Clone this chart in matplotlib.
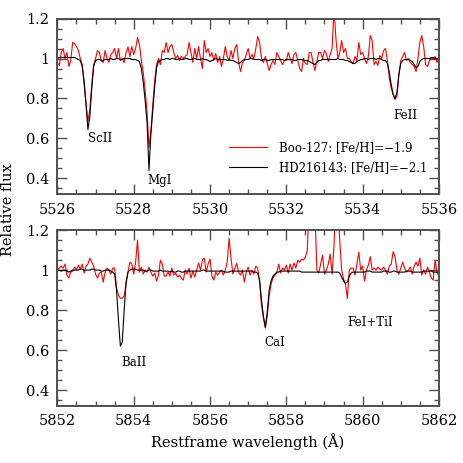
import numpy as np
import matplotlib
matplotlib.use('Agg')
import matplotlib.pyplot as plt
from matplotlib.ticker import MultipleLocator, FixedFormatter, FixedLocator

plt.rcParams['font.family'] = ['DejaVu Serif']

# ---- spectra, sampled every 0.05 A ----
waveTop = np.linspace(5526.0, 5536.0, 201)
waveBot = np.linspace(5852.0, 5862.0, 201)

booTop = [
  0.98, 0.965, 1.03, 1.05, 1.0, 1.03, 0.96, 0.99, 1.08, 1.075,
  1.06, 1.04, 1.0, 0.97, 0.87, 0.78, 0.685, 0.745, 0.87, 0.97,
  1.0, 1.04, 1.03, 0.99, 0.98, 1.04, 1.0, 0.98, 1.02, 1.03,
  1.05, 1.0, 1.05, 0.99, 1.0, 0.98, 1.03, 1.058, 1.01, 1.06,
  1.02, 1.05, 1.105, 1.07, 0.99, 0.93, 0.84, 0.73, 0.555, 0.64,
  0.77, 0.89, 0.97, 1.0, 0.97, 1.04, 1.03, 1.08, 1.03, 1.06,
  1.07, 1.03, 1.0, 1.015, 0.99, 1.01, 1.0, 1.01, 1.02, 1.08,
  1.03, 0.98, 1.05, 1.0, 1.06, 1.0, 0.95, 1.09, 1.03, 1.05,
  1.01, 1.03, 0.99, 1.025, 0.98, 1.01, 0.96, 1.0, 1.06, 1.01,
  0.99, 1.04, 1.0, 1.05, 1.07, 0.98, 0.935, 0.98, 0.99, 1.02,
  1.05, 1.0, 1.02, 1.0, 1.05, 1.11, 1.08, 1.0, 0.98, 1.01,
  0.975, 0.94, 0.97, 0.99, 0.97, 1.03, 1.01, 0.99, 0.97, 0.99,
  0.99, 1.03, 1.0, 0.975, 1.02, 1.03, 0.99, 0.95, 0.935, 1.0,
  0.975, 0.97, 1.03, 1.03, 0.98, 0.94, 0.985, 1.03, 1.03, 1.0,
  1.04, 1.025, 0.985, 1.02, 1.05, 1.25, 1.1, 1.0, 1.03, 1.09,
  1.03, 1.05, 1.0, 1.0, 0.985, 0.975, 1.01, 0.99, 1.08, 1.02,
  1.03, 1.0, 0.975, 1.01, 1.115, 1.09, 0.97, 0.985, 0.965, 1.015,
  1.0, 1.04, 1.05, 0.99, 0.9, 0.85, 0.82, 0.795, 0.81, 0.92,
  0.99, 1.01, 1.03, 0.99, 1.0, 0.98, 0.97, 0.96, 0.935, 1.0,
  1.08, 1.115, 1.06, 0.97, 0.96, 0.99, 1.0, 1.0, 1.01, 0.98,
  1.0]

hdTop = [
  1.0, 1.005, 1.005, 1.005, 1.005, 1.005, 1.005, 1.005, 1.005, 1.005,
  1.0, 0.995, 0.99, 0.96, 0.89, 0.77, 0.645, 0.71, 0.85, 0.96,
  0.99, 0.995, 0.995, 0.99, 0.99, 0.995, 0.995, 0.995, 1.0, 0.995,
  0.995, 1.0, 1.0, 0.995, 0.995, 1.0, 1.0, 1.0, 1.0, 0.995,
  0.995, 0.995, 0.99, 0.985, 0.95, 0.88, 0.79, 0.68, 0.44, 0.62,
  0.74, 0.86, 0.955, 0.985, 0.99, 0.995, 0.995, 1.0, 1.0, 0.995,
  1.0, 1.0, 0.995, 0.995, 1.0, 0.995, 0.995, 1.0, 1.0, 0.995,
  0.995, 1.0, 1.0, 0.995, 0.995, 0.995, 1.0, 0.995, 0.995, 0.99,
  0.985, 0.99, 0.995, 1.0, 0.995, 0.995, 0.995, 0.995, 0.995, 0.99,
  0.995, 0.99, 0.99, 0.985, 0.98, 0.975, 0.98, 0.99, 0.995, 0.995,
  0.995, 1.0, 1.0, 0.995, 0.995, 0.995, 0.995, 0.99, 0.995, 0.995,
  0.99, 0.99, 0.995, 0.995, 0.995, 0.995, 0.995, 0.995, 0.995, 0.99,
  0.995, 0.995, 0.995, 0.995, 0.99, 0.99, 0.995, 0.995, 0.995, 0.99,
  0.99, 0.99, 0.985, 0.98, 0.975, 0.97, 0.98, 0.99, 0.99, 0.995,
  0.995, 0.995, 0.995, 0.995, 0.995, 0.995, 0.995, 1.0, 0.995, 0.995,
  0.995, 0.99, 0.99, 0.985, 0.98, 0.975, 0.975, 0.985, 0.99, 0.995,
  0.995, 1.0, 1.0, 0.995, 1.0, 1.0, 1.0, 0.995, 1.0, 1.0,
  0.995, 0.99, 0.99, 0.975, 0.93, 0.87, 0.82, 0.80, 0.83, 0.92,
  0.975, 0.99, 0.995, 0.995, 0.995, 0.99, 0.985, 0.97, 0.955, 0.96,
  0.985, 0.995, 1.0, 1.0, 1.0, 1.0, 1.005, 1.005, 1.0, 1.0,
  1.0]

booBot = [
  1.005, 1.01, 1.02, 1.01, 1.03, 0.975, 0.96, 0.99, 0.995, 1.015,
  1.0, 1.025, 1.005, 1.03, 0.985, 1.02, 1.03, 1.06, 1.04, 1.02,
  0.98, 0.96, 0.985, 0.99, 0.94, 0.99, 1.01, 1.0, 0.98, 1.01,
  1.01, 0.91, 0.875, 0.858, 0.86, 0.87, 0.93, 0.99, 1.04, 1.03,
  0.98, 1.04, 1.15, 0.99, 1.015, 0.98, 1.0, 0.99, 1.015, 0.99,
  0.97, 0.985, 0.945, 0.975, 1.05, 1.03, 0.97, 0.97, 0.99, 0.97,
  1.01, 0.975, 0.985, 0.965, 0.975, 0.96, 0.95, 1.0, 0.98, 1.01,
  0.96, 0.995, 0.965, 1.0, 1.035, 1.0, 1.05, 1.06, 0.99, 1.03,
  1.055, 0.97, 0.95, 0.99, 0.975, 0.99, 1.0, 0.975, 1.0, 1.04,
  1.16, 1.06, 0.98, 1.01, 1.033, 0.99, 0.975, 1.0, 0.94, 0.99,
  1.015, 0.975, 1.0, 0.98, 1.02, 1.01, 0.94, 0.82, 0.76, 0.71,
  0.77, 0.87, 0.93, 0.96, 0.975, 0.985, 1.03, 0.985, 1.01, 1.0,
  1.025, 0.985, 1.03, 1.0, 1.035, 1.01, 1.05, 1.04, 1.055, 1.05,
  1.065, 1.1, 1.35, 1.4, 1.4, 1.3, 1.0, 0.985, 1.03, 1.075,
  0.98, 1.0, 1.03, 1.08, 0.98, 1.12, 1.4, 1.3, 1.15, 1.0,
  0.955, 0.93, 0.858, 1.0, 1.01, 1.01, 0.975, 1.03, 1.09, 1.0,
  1.02, 0.945, 1.0, 1.025, 1.067, 1.0, 1.01, 1.0, 1.015, 1.005,
  1.0, 1.015, 1.0, 0.98, 1.02, 1.03, 1.092, 1.067, 1.0, 0.98,
  1.01, 1.04, 1.01, 0.99, 1.0, 1.015, 0.98, 1.02, 1.04, 1.02,
  1.06, 0.975, 1.0, 0.98, 1.015, 0.99, 0.96, 0.95, 1.05, 0.99,
  0.97]

hdBot = [
  1.0, 1.0, 0.995, 1.0, 1.0, 0.995, 0.99, 0.995, 1.0, 1.0,
  1.0, 1.0, 1.005, 1.005, 1.0, 1.0, 1.0, 1.0, 1.005, 1.005,
  1.0, 1.0, 1.0, 0.995, 0.995, 1.0, 1.0, 1.0, 0.995, 0.99,
  0.98, 0.9, 0.75, 0.62, 0.64, 0.8, 0.94, 0.99, 1.0, 1.005,
  1.005, 1.005, 1.0, 1.0, 1.0, 1.0, 0.995, 0.995, 1.0, 1.0,
  0.995, 0.995, 0.995, 0.995, 1.0, 0.995, 0.995, 0.995, 0.995, 0.99,
  0.995, 0.99, 0.99, 0.995, 0.995, 0.99, 0.99, 0.995, 0.995, 0.995,
  0.995, 0.995, 0.995, 0.995, 0.995, 0.995, 1.0, 1.0, 0.995, 0.995,
  0.995, 0.995, 0.995, 0.995, 0.995, 0.995, 0.995, 0.995, 0.99, 0.99,
  0.99, 0.995, 0.995, 0.995, 0.995, 0.995, 0.995, 0.995, 0.995, 0.995,
  0.995, 0.995, 0.995, 0.99, 0.99, 0.985, 0.95, 0.85, 0.77, 0.715,
  0.79, 0.90, 0.945, 0.97, 0.98, 0.99, 0.99, 0.995, 0.995, 0.995,
  0.995, 0.995, 0.995, 0.995, 0.995, 0.995, 0.995, 0.995, 0.99, 0.99,
  0.99, 0.99, 0.99, 0.99, 0.99, 0.99, 0.99, 0.99, 0.99, 0.99,
  0.99, 0.99, 0.99, 0.99, 0.99, 0.99, 0.99, 0.99, 0.985, 0.965,
  0.945, 0.935, 0.94, 0.97, 0.985, 0.99, 0.99, 0.99, 0.99, 0.99,
  0.99, 0.99, 0.995, 0.995, 0.995, 0.99, 0.99, 0.99, 0.99, 0.99,
  0.99, 0.995, 0.995, 0.995, 0.99, 0.99, 0.995, 0.995, 0.99, 0.99,
  0.99, 0.99, 0.99, 0.995, 0.995, 0.995, 0.99, 0.99, 0.99, 0.99,
  0.99, 0.99, 0.995, 0.995, 0.995, 0.995, 0.995, 0.99, 0.99, 0.99,
  0.99]

for arr in (booTop, hdTop, booBot, hdBot):
  assert len(arr) == 201, len(arr)

labelBoo = 'Boo-127: [Fe/H]=\u22121.9'
labelHd  = 'HD216143: [Fe/H]=\u22122.1'

linesTop = [('ScII', 5527.12, 0.60), ('MgI', 5528.67, 0.39), ('FeII', 5535.13, 0.717)]
linesBot = [('BaII', 5854.0, 0.537), ('CaI', 5857.70, 0.637), ('FeI+TiI', 5860.19, 0.74)]

# +++ begin: figure +++

fig = plt.figure(figsize=(4.63, 4.63), dpi=100)
axTop = fig.add_axes([0.124, 0.580, 0.824, 0.380])
axBot = fig.add_axes([0.124, 0.123, 0.824, 0.380])

frameCol = '#505050'

def setupAxis(ax, x0):
  ax.set_xlim(x0, x0 + 10)
  ax.set_ylim(0.32, 1.2)
  ax.xaxis.set_major_locator(MultipleLocator(2))
  ax.xaxis.set_minor_locator(MultipleLocator(0.5))
  ax.yaxis.set_major_locator(FixedLocator([0.4, 0.6, 0.8, 1.0, 1.2]))
  ax.yaxis.set_major_formatter(FixedFormatter(['0.4', '0.6', '0.8', '1', '1.2']))
  ax.yaxis.set_minor_locator(MultipleLocator(0.05))
  ax.xaxis.set_major_formatter(matplotlib.ticker.FormatStrFormatter('%d'))
  ax.tick_params(which='both', direction='in', top=True, right=True, color=frameCol,
                 labelsize=10.5, pad=6)
  ax.tick_params(which='major', length=7, width=1.0)
  ax.tick_params(which='minor', length=3.5, width=1.0)
  for sp in ax.spines.values():
    sp.set_color(frameCol)
    sp.set_linewidth(1.4)

axTop.plot(waveTop, booTop, '-', color='red', lw=0.8, label=labelBoo)
axTop.plot(waveTop, hdTop, '-', color='black', lw=0.8, label=labelHd)
setupAxis(axTop, 5526)
for name, lx, ly in linesTop:
  axTop.text(lx, ly, name, ha='center', va='center', fontsize=8.5)
axTop.legend(loc='center left', bbox_to_anchor=(0.45, 0.209), frameon=False,
             fontsize=8.5, handlelength=3.2, handletextpad=1.0, labelspacing=0.6,
             borderpad=0, borderaxespad=0)

axBot.plot(waveBot, booBot, '-', color='red', lw=0.8)
axBot.plot(waveBot, hdBot, '-', color='black', lw=0.8)
setupAxis(axBot, 5852)
for name, lx, ly in linesBot:
  axBot.text(lx, ly, name, ha='center', va='center', fontsize=8.5)

fig.text(8 / 463, 1 - 210 / 463, 'Relative flux', rotation=90, ha='center', va='center', fontsize=10.5)
fig.text(247.5 / 463, 1 - 442 / 463, 'Restframe wavelength (\u00c5)', ha='center', va='center', fontsize=10.5)

fig.savefig('out.png', dpi=100)
